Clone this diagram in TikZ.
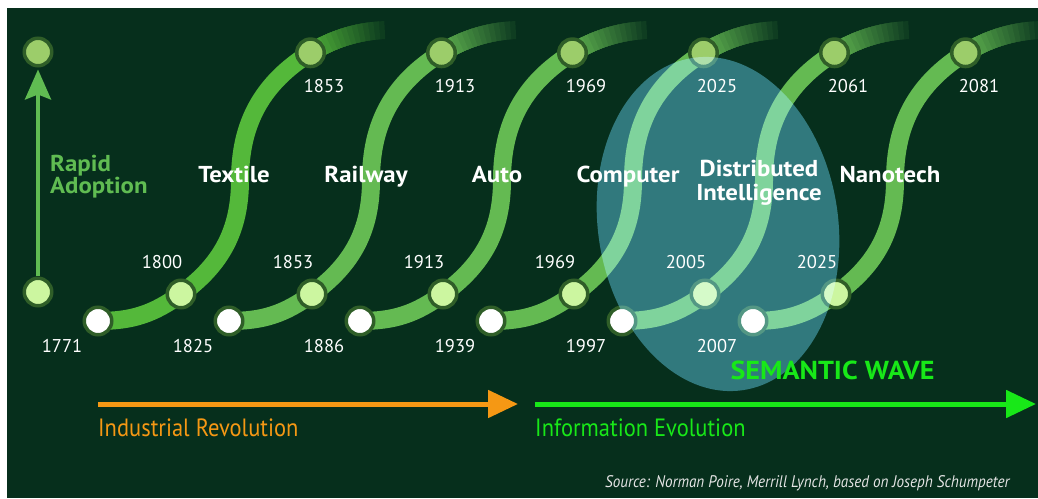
\documentclass[tikz,border=0pt]{standalone}
\usepackage{fontspec}
\setmainfont{PT Sans}
\newfontfamily\condfont[FakeStretch=0.9]{PT Sans}
\newfontfamily\widefont[FakeStretch=1.08]{PT Sans}
\usetikzlibrary{arrows.meta,backgrounds}

\definecolor{bgdark}{RGB}{6,47,28}
\definecolor{curveA}{RGB}{84,184,58}
\definecolor{curveB}{RGB}{100,186,82}
\definecolor{ringc}{RGB}{47,94,40}
\definecolor{lowfill}{RGB}{204,246,160}
\definecolor{topfill}{RGB}{156,205,106}
\definecolor{adoptgreen}{RGB}{96,188,82}
\definecolor{wavegreen}{RGB}{24,232,24}
\definecolor{indorange}{RGB}{245,152,20}
\definecolor{wavefill}{RGB}{44,90,108}
\definecolor{srcgray}{RGB}{228,228,228}

\begin{document}
\begin{tikzpicture}[x=1pt,y=1pt]
	\tikzset{
		dot/.style = {circle, draw=ringc, line width=3.5pt,
			minimum size=27.5pt, inner sep=0pt},
		startdot/.style = {dot, fill=white},
		lowdot/.style = {dot, fill=lowfill},
		topdot/.style = {dot, fill=topfill},
		wave/.style = {line width=18pt},
		year/.style = {anchor=base, text=white,
			font=\fontsize{18.5}{22}\selectfont},
		era/.style = {anchor=base, text=white,
			font=\widefont\bfseries\fontsize{23}{24}\selectfont},
		timeline/.style = {line width=5pt,
			-{Triangle[length=30pt,width=27pt]}}
	}
	\useasboundingbox (0,0) rectangle (1038,498);
	\begin{pgfonlayer}{background}
		\fill[bgdark] (7,0) rectangle (1038,490);
	\end{pgfonlayer}

	% rapid adoption
	\node[lowdot] (ra0) at (38,206) {};
	\node[topdot] (ra1) at (38,446) {};
	\draw[adoptgreen, line width=4pt, shorten >=2pt,
		-{Stealth[length=30pt,width=26pt,inset=5pt]}] (ra0) -- (ra1);
	\node[anchor=north west, inner sep=0pt, align=left, text=adoptgreen,
		font=\widefont\bfseries\fontsize{23}{22}\selectfont] (rapid) at (50,343) {Rapid\\Adoption};

	% waves: start, take-off and top years
	\foreach \k/\col/\ya/\yb/\yc in {0/curveA/1771/1800/1853, 1/curveB/1825/1853/1913,
		2/curveB/1886/1913/1969, 3/curveB/1939/1969/2025,
		4/curveB/1997/2005/2061, 5/curveB/2007/2025/2081}{
		\pgfmathsetmacro{\dx}{131*\k}
		\node[startdot] (w\k) at (98+\dx,177) {};
		\node[lowdot] (l\k) at (181+\dx,204) {};
		\coordinate (m\k) at (240+\dx,318);
		\node[topdot] (t\k) at (310.5+\dx,445.2) {};
		\begin{pgfonlayer}{background}
			\draw[wave,\col] (w\k.center) to[out=0,in=216] (l\k.center)
				to[out=36,in=-90] (m\k) to[out=90,in=212] (t\k.center);
			% fading tail
			\foreach \s [evaluate=\s as \pc using int(100-6*\s)] in {15,14,...,1}
				\draw[wave,\col!\pc!bgdark] (t\k.center)
					arc[start angle=122, end angle=122-2*\s, radius=150];
		\end{pgfonlayer}
		\node[year] (ya\k) at (62+\dx,145) {\ya};
		\node[year] (yb\k) at (162+\dx,229) {\yb};
		\node[year] (yc\k) at (324+\dx,405) {\yc};
	}

	% semantic wave
	\begin{scope}[blend mode=screen]
		\fill[wavefill, rotate around={8.7:(718,274)}] (718,274) ellipse [x radius=120, y radius=168];
	\end{scope}
	\node[anchor=base, text=wavegreen, font=\widefont\bfseries\fontsize{26}{26}\selectfont] (sw) at (832.5,118) {SEMANTIC WAVE};

	\node[era] (e0) at (234,315) {Textile};
	\node[era] (e1) at (366,315) {Railway};
	\node[era] (e2) at (497,315) {Auto};
	\node[era] (e3) at (628,315) {Computer};
	\node[era, anchor=north, inner sep=0pt, align=center] (e4) at (759,338) {Distributed\\Intelligence};
	\node[era] (e5) at (890,315) {Nanotech};

	% revolutions
	\coordinate (ir0) at (98,94);  \coordinate (ir1) at (518,94);
	\coordinate (ie0) at (535,94); \coordinate (ie1) at (1036,94);
	\draw[timeline, indorange] (ir0) -- (ir1);
	\draw[timeline, wavegreen] (ie0) -- (ie1);
	\node[anchor=base west, inner sep=0pt, text=indorange,
		font=\condfont\fontsize{25}{25}\selectfont] (ir) at (98,62) {Industrial Revolution};
	\node[anchor=base west, inner sep=0pt, text=wavegreen,
		font=\condfont\fontsize{25}{25}\selectfont] (ie) at (535,62) {Information Evolution};
	\node[anchor=base west, inner sep=0pt, text=srcgray,
		font=\condfont\itshape\fontsize{16.8}{17}\selectfont] (src) at (605,11)
		{Source: Norman Poire, Merrill Lynch, based on Joseph Schumpeter};
\end{tikzpicture}
\end{document}
